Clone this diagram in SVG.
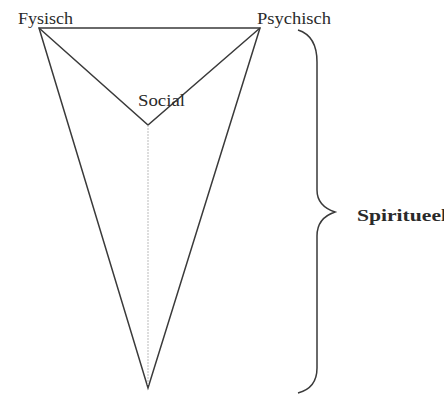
<svg xmlns="http://www.w3.org/2000/svg" width="444" height="394" viewBox="0 0 444 394">
<style>
.lbl{font-family:"Liberation Serif","Times New Roman",serif;font-size:16px;fill:#2a2a2a}
.edge{fill:none;stroke:#3a3a3a;stroke-width:1.5;stroke-linejoin:miter}
</style>
<rect width="444" height="394" fill="#fff"/>
<g id="connectors">
<path class="edge" d="M39,28 L260,28 L148,388 Z"/>
<path class="edge" d="M39,28 L148,125 L260,28"/>
<line x1="148" y1="125" x2="148" y2="386" stroke="#bbb" stroke-width="1" stroke-dasharray="2,1"/>
<path class="edge" d="M298,30 Q317,36 317,62 L317,190 Q317,206 335,212 Q317,218 317,236 L317,368 Q317,388 298,393"/>
</g>
<g id="fysisch"><text class="lbl" x="18" y="24" textLength="55" lengthAdjust="spacingAndGlyphs">Fysisch</text></g>
<g id="psychisch"><text class="lbl" x="257" y="24" textLength="74" lengthAdjust="spacingAndGlyphs">Psychisch</text></g>
<g id="sociaal"><text class="lbl" x="138" y="106" textLength="47" lengthAdjust="spacingAndGlyphs">Social</text></g>
<g id="spiritueel"><text class="lbl" x="357" y="221" textLength="90" lengthAdjust="spacingAndGlyphs" style="font-size:17px;font-weight:bold">Spiritueel</text></g>
</svg>
